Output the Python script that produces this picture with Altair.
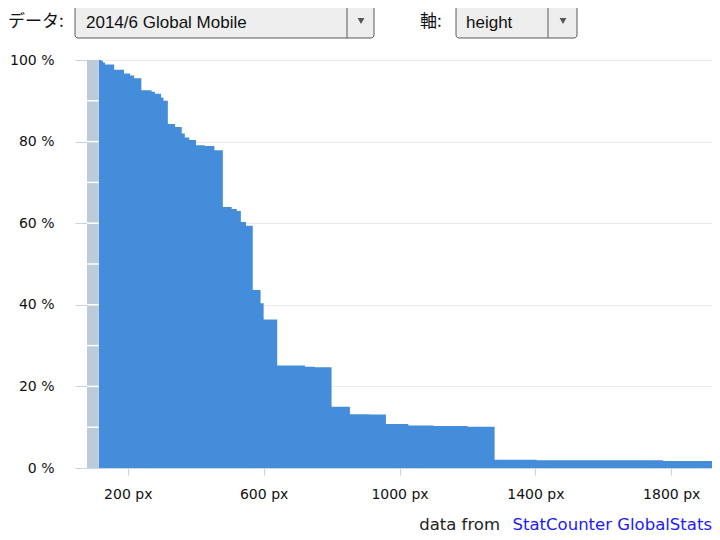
import altair as alt
import pandas as pd

# ---- data (screen height vs. share of screens >= height) ----
heights = [115, 121, 127, 133, 160, 189, 207, 219, 240, 270, 280, 298, 305, 318, 339,
           359, 368, 381, 401, 427, 455, 480, 506, 521, 533, 548, 568, 591, 600, 640,
           722, 751, 800, 854, 911, 960, 1026, 1100, 1200, 1280, 1404, 1776, 1920]
shares = [100, 99.8, 99.4, 98.9, 97.6, 96.7, 96.2, 95.5, 92.6, 92.2, 91.7, 90.8, 90.0, 84.3, 83.6,
          82.0, 81.0, 80.4, 79.1, 78.9, 77.9, 64.0, 63.5, 63.0, 60.3, 59.4, 43.6, 40.4, 36.4, 25.1,
          24.8, 24.7, 15.0, 13.2, 13.1, 10.8, 10.4, 10.3, 10.1, 2.0, 1.9, 1.7, 1.7]

x_domain = [80, 1920]
band_start = 80
band_end = 115
x_ticks = [200, 600, 1000, 1400, 1800]
y_ticks = [0, 20, 40, 60, 80, 100]
band_lines = [10, 20, 30, 40, 50, 60, 70, 80, 90]

data_label = "データ:"
data_choice = "2014/6 Global Mobile"
axis_label = "軸:"
axis_choice = "height"
credit_prefix = "data from"
credit_link = "StatCounter GlobalStats"

JP = "Noto Sans CJK JP"
LAT = "DejaVu Sans"
UI = "Liberation Sans"

df = pd.DataFrame({"h": heights, "p": shares})
band_df = pd.DataFrame({"x": [band_start], "x2": [band_end], "y": [0], "y2": [100]})
lines_df = pd.DataFrame({"y": band_lines, "x": [band_start] * len(band_lines),
                         "x2": [band_end] * len(band_lines)})
one = pd.DataFrame({"a": [0]})

xs = alt.Scale(domain=x_domain, nice=False, zero=False)
ys = alt.Scale(domain=[0, 100], nice=False)

area = alt.Chart(df).mark_area(
    interpolate="step-after", color="#3a87d8", opacity=0.95, clip=True
).encode(
    x=alt.X("h:Q", scale=xs, axis=alt.Axis(
        values=x_ticks, labelExpr="datum.value + ' px'", title=None, grid=False,
        domain=True, domainColor="#c9d6e2", tickColor="#c5d3e0", tickSize=7,
        labelPadding=12, labelFontSize=14, labelFont=LAT, labelColor="#111")),
    y=alt.Y("p:Q", scale=ys, axis=alt.Axis(
        values=y_ticks, labelExpr="datum.value + ' %'", title=None, grid=True,
        gridColor="#e9e9e9", domain=False, tickColor="#c5d3e0", tickSize=12,
        labelPadding=21, labelFontSize=14, labelFont=LAT, labelColor="#111")),
)

band = alt.Chart(band_df).mark_rect(color="#bccbd9").encode(
    x=alt.X("x:Q", scale=xs), x2="x2:Q",
    y=alt.Y("y:Q", scale=ys), y2="y2:Q",
)
band_rules = alt.Chart(lines_df).mark_rule(color="white", strokeWidth=1.5).encode(
    x=alt.X("x:Q", scale=xs), x2="x2:Q", y=alt.Y("y:Q", scale=ys),
)

# ---- header controls (drawn as decorations above the plot) ----
def box(x0, x1, sep):
    r = alt.Chart(one).mark_rect(fill="#eeeeee", stroke="#5a5a5a", strokeWidth=1,
                                 cornerRadius=3, clip=False).encode(
        x=alt.value(x0), x2=alt.value(x1), y=alt.value(-54), y2=alt.value(-22))
    s = alt.Chart(one).mark_rule(color="#5a5a5a", clip=False).encode(
        x=alt.value(sep), y=alt.value(-54), y2=alt.value(-22))
    t = alt.Chart(one).mark_point(shape="triangle-down", filled=True, color="#555",
                                  size=45, opacity=1, clip=False).encode(
        x=alt.value((sep + x1) / 2 + 0.5), y=alt.value(-39))
    return r + s + t

def label(txt, x, y, color="#111", size=17, align="left", font=JP, baseline="middle"):
    return alt.Chart(one).mark_text(text=txt, font=font, fontSize=size, color=color,
                                    align=align, baseline=baseline, clip=False).encode(
        x=alt.value(x), y=alt.value(y))

header = (
    label(data_label, -79, -38)
    + box(-12, 287, 260)
    + label(data_choice, -1, -37, font=UI, size=17)
    + label(axis_label, 333, -38)
    + box(369, 490, 461)
    + label(axis_choice, 379, -37, font=UI, size=17)
)

footer = (
    label(credit_prefix, 413, 470, color="#222", size=16.5, font=LAT, align="right",
          baseline="alphabetic")
    + label(credit_link, 625, 470, color="#1a1aff", size=16.5, font=LAT, align="right",
            baseline="alphabetic")
)

chart = alt.layer(area, band, band_rules, header, footer).properties(
    width=625, height=408,
    autosize=alt.AutoSizeParams(type="none"),
    padding={"left": 79, "top": 52, "right": 0, "bottom": 66},
).configure_view(stroke=None)

chart.save("out.html", embed_options={"renderer": "svg", "actions": False})
